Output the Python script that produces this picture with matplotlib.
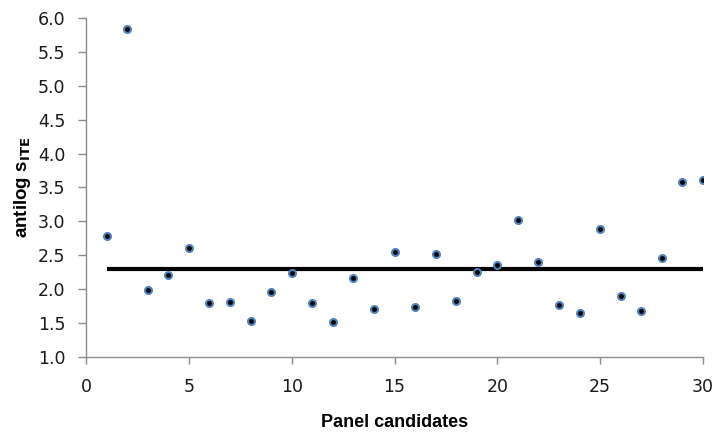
import matplotlib
matplotlib.use("Agg")
import matplotlib.pyplot as plt

candidates = list(range(1, 31))
antilog_s = [2.79, 5.84, 1.98, 2.20, 2.61, 1.80, 1.81, 1.53, 1.96, 2.24,
             1.79, 1.51, 2.17, 1.71, 2.55, 1.73, 2.52, 1.83, 2.25, 2.36,
             3.02, 2.40, 1.77, 1.65, 2.88, 1.89, 1.67, 2.46, 3.58, 3.61]
mean_level = 2.30
x_ticks = [0, 5, 10, 15, 20, 25, 30]
y_ticks = [1.0, 1.5, 2.0, 2.5, 3.0, 3.5, 4.0, 4.5, 5.0, 5.5, 6.0]

fig = plt.figure(figsize=(7.17, 4.32), dpi=100)
ax = fig.add_axes([86 / 717, 1 - 356.7 / 432, 617 / 717, 338.4 / 432])

ax.plot([candidates[0], candidates[-1]], [mean_level, mean_level],
        color="black", lw=3, solid_capstyle="butt", zorder=2)
ax.plot(candidates, antilog_s, "o", ms=5, mfc="black", mec="#4F81BD",
        mew=1.5, zorder=3)

ax.set_xlim(0, 30)
ax.set_ylim(1.0, 6.0)
ax.set_xticks(x_ticks)
ax.set_yticks(y_ticks)
ax.set_yticklabels([f"{v:.1f}" for v in y_ticks])

for side in ["top", "right"]:
    ax.spines[side].set_visible(False)
for side in ["left", "bottom"]:
    ax.spines[side].set_color("#8c8c8c")
    ax.spines[side].set_linewidth(1)
ax.tick_params(colors="#8c8c8c", labelcolor="#1a1a1a", labelsize=12.5,
               length=5, width=1)
ax.tick_params(axis="y", length=6, pad=9)
ax.tick_params(axis="x", pad=10)

ax.set_xlabel("Panel candidates", fontsize=13, fontweight="bold",
              family="Liberation Sans", labelpad=13)
ax.set_ylabel(r"antilog s$_{\mathbf{ITE}}$", fontsize=13.5, fontweight="bold",
              family="Liberation Sans", labelpad=3)

fig.savefig("out.png", dpi=100)
